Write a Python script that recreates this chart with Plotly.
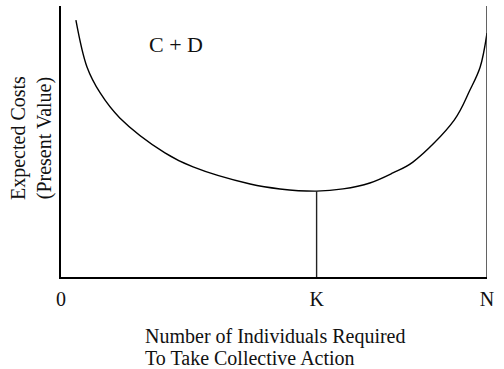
import plotly.graph_objects as go

# Curve C + D (expected costs)
curve_x = [3.5, 6.1, 9.2, 13.8, 24.4, 31.0, 44.4, 51.4, 60.0, 66.2, 72.5, 77.9, 82.6, 92.3, 96.0, 98.4, 100.0]
curve_y = [94.8, 77.5, 67.9, 58.7, 45.8, 40.6, 34.3, 32.5, 31.7, 32.5, 34.7, 38.4, 42.4, 57.9, 69.0, 77.5, 90.0]

K_value = 60
K_min_cost = 31.7
N_value = 100
N_top = 100

tick_vals = [0, K_value, N_value]
tick_text = ["0", "K", "N"]

FONT = "Liberation Serif, Times New Roman, serif"

L, R, T, B = 61, 17, 6, 92
PW, PH = 504 - L - R, 369 - T - B


def px_x(px):
    return (px - L) / PW


def px_y(py):
    return (369 - B - py) / PH


fig = go.Figure()
fig.add_trace(go.Scatter(x=curve_x, y=curve_y, mode="lines",
                         line=dict(color="black", width=1.4, shape="spline", smoothing=1.0),
                         hoverinfo="skip", showlegend=False))
fig.add_trace(go.Scatter(x=[K_value, K_value], y=[0, K_min_cost], mode="lines",
                         line=dict(color="#222", width=1.4), showlegend=False))
fig.add_trace(go.Scatter(x=[N_value, N_value], y=[0, N_top], mode="lines",
                         line=dict(color="#222", width=1.4), showlegend=False))

fig.update_layout(
    width=504, height=369,
    margin=dict(l=L, r=R, t=T, b=B),
    plot_bgcolor="white", paper_bgcolor="white",
    font=dict(family=FONT, size=20, color="#111"),
    showlegend=False,
    xaxis=dict(range=[0, 100], showline=True, linecolor="black", linewidth=2,
               showgrid=False, zeroline=False, ticks="",
               tickvals=tick_vals, ticktext=tick_text,
               tickfont=dict(family=FONT, size=20), ticklabelstandoff=3),
    yaxis=dict(range=[0, 100], showline=True, linecolor="black", linewidth=2,
               showgrid=False, zeroline=False, showticklabels=False, ticks=""),
    annotations=[
        dict(text="C + D", xref="paper", yref="paper", x=px_x(147), y=px_y(30),
             showarrow=False, font=dict(family=FONT, size=22)),
        dict(text="Number of Individuals Required",
             xref="paper", yref="paper", x=px_x(143), y=px_y(336),
             xanchor="left", yanchor="middle", showarrow=False,
             font=dict(family=FONT, size=20)),
        dict(text="To Take Collective Action",
             xref="paper", yref="paper", x=px_x(143), y=px_y(358),
             xanchor="left", yanchor="middle", showarrow=False,
             font=dict(family=FONT, size=20)),
        dict(text="Expected Costs<br>(Present Value)", textangle=-90,
             xref="paper", yref="paper", x=px_x(31), y=px_y(138),
             xanchor="center", yanchor="middle",
             showarrow=False, align="center", font=dict(family=FONT, size=20)),
    ],
)

fig.write_html("out.html", config={"displayModeBar": False},
               post_script="document.body.style.margin='0';document.body.style.overflow='hidden';")
